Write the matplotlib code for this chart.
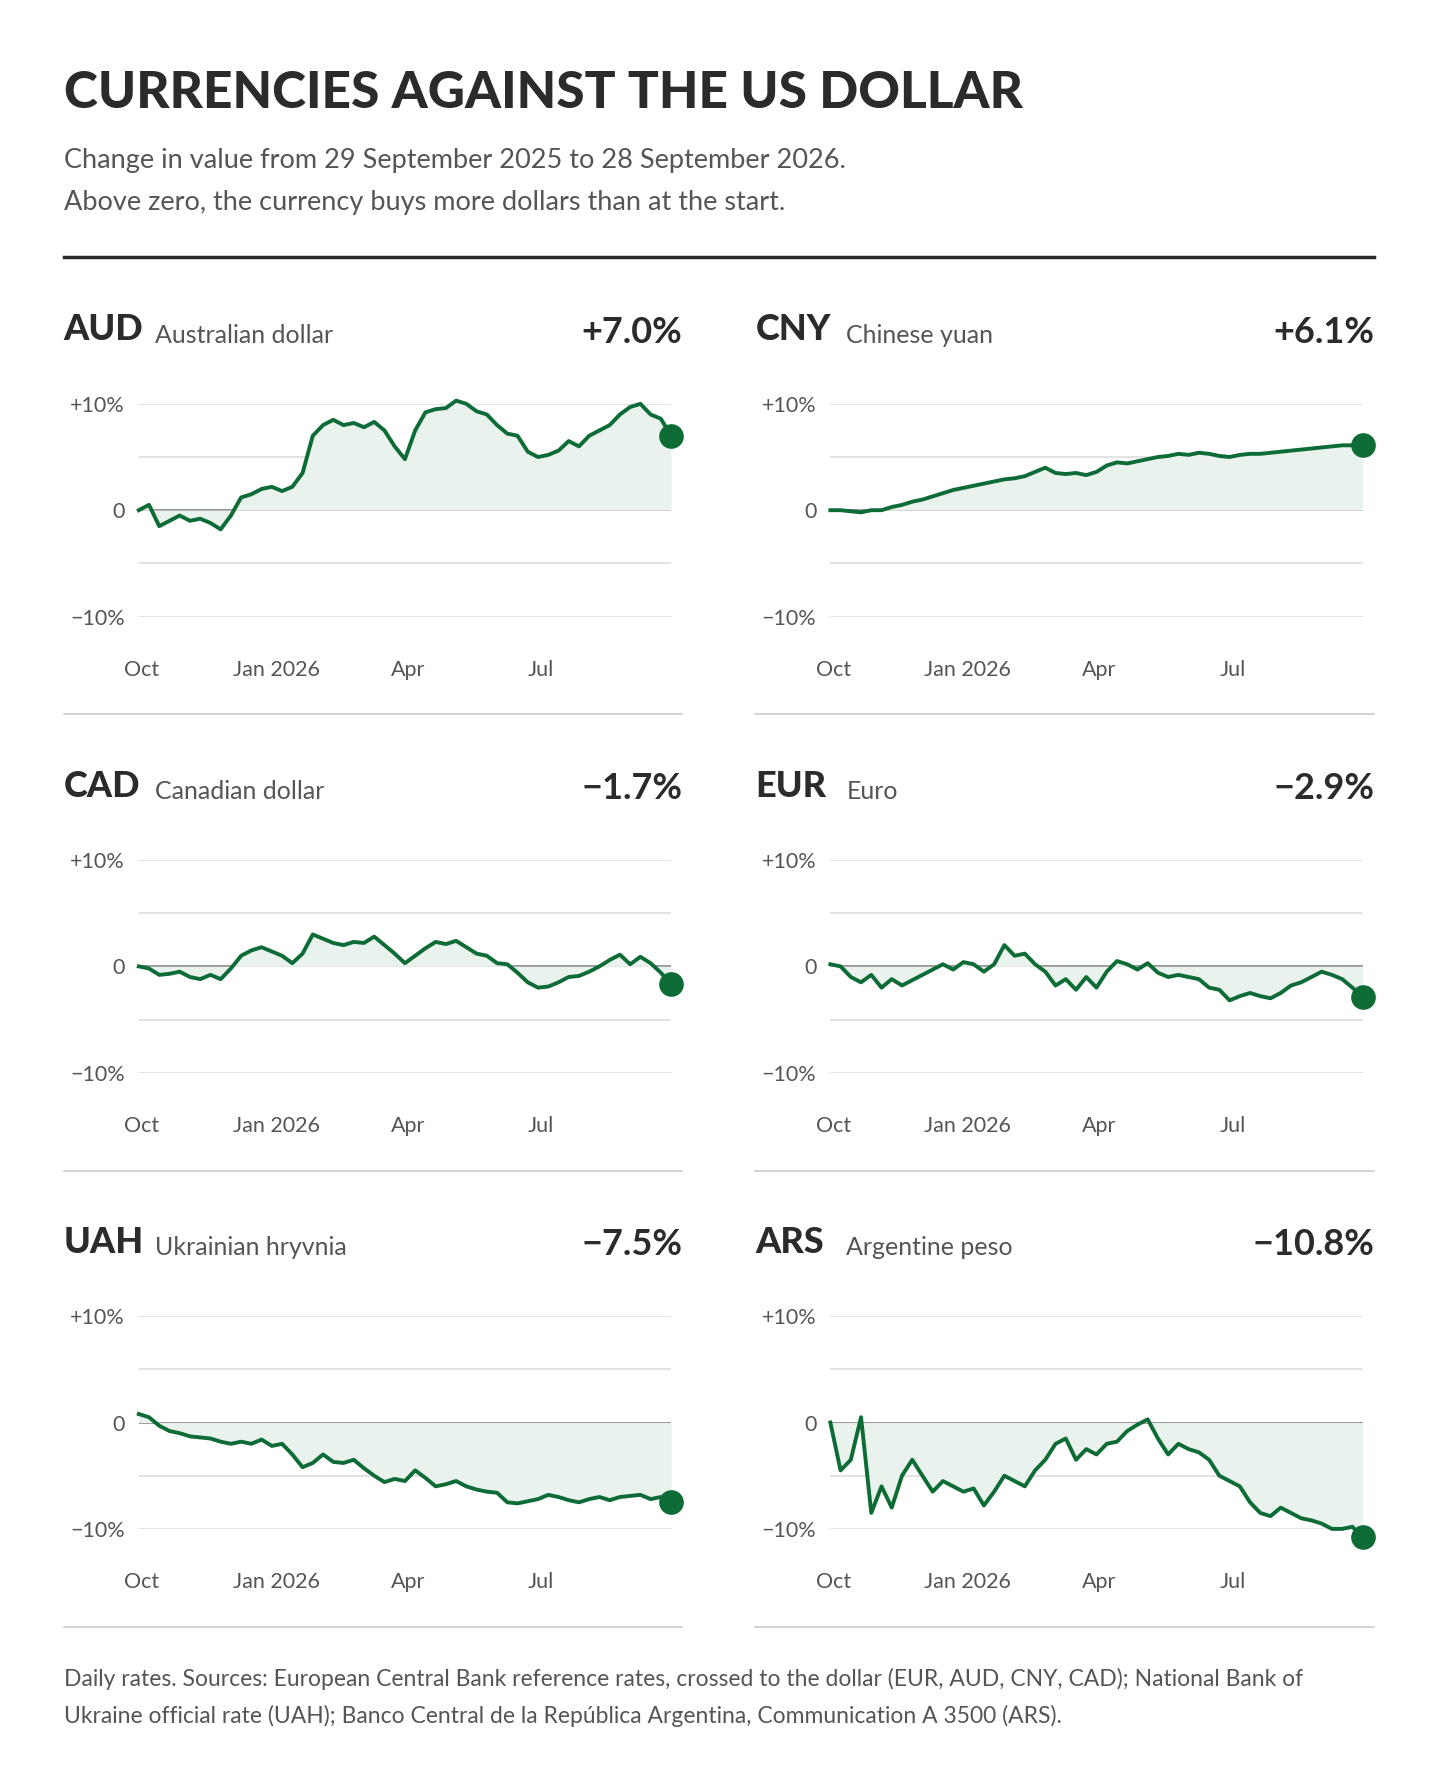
import matplotlib
matplotlib.use("Agg")
import matplotlib.pyplot as plt
import pandas as pd

# weekly observations, 29 Sep 2025 -> 28 Sep 2026
dates = pd.date_range("2025-09-29", periods=53, freq="7D")

aud = [0, 0.5, -1.5, -1, -0.5, -1, -0.8, -1.2, -1.8, -0.5, 1.2, 1.5, 2, 2.2, 1.8, 2.2, 3.5,
       7, 8, 8.5, 8, 8.2, 7.8, 8.3, 7.5, 6, 4.8, 7.5, 9.2, 9.5, 9.6, 10.3, 10, 9.3, 9, 8,
       7.2, 7, 5.5, 5, 5.2, 5.6, 6.5, 6, 7, 7.5, 8, 9, 9.7, 10, 9, 8.6, 7.0]
cny = [0, 0, -0.1, -0.2, 0, 0, 0.3, 0.5, 0.8, 1, 1.3, 1.6, 1.9, 2.1, 2.3, 2.5, 2.7, 2.9,
       3.0, 3.2, 3.6, 4.0, 3.5, 3.4, 3.5, 3.3, 3.6, 4.2, 4.5, 4.4, 4.6, 4.8, 5.0, 5.1, 5.3,
       5.2, 5.4, 5.3, 5.1, 5.0, 5.2, 5.3, 5.3, 5.4, 5.5, 5.6, 5.7, 5.8, 5.9, 6.0, 6.1, 6.1, 6.1]
cad = [0, -0.2, -0.8, -0.7, -0.5, -1.0, -1.2, -0.8, -1.2, -0.2, 1.0, 1.5, 1.8, 1.4, 1.0,
       0.3, 1.2, 3.0, 2.6, 2.2, 2.0, 2.3, 2.2, 2.8, 2.0, 1.2, 0.3, 1.0, 1.7, 2.3, 2.1, 2.4,
       1.8, 1.2, 1.0, 0.3, 0.2, -0.6, -1.5, -2.0, -1.9, -1.5, -1.0, -0.9, -0.5, 0.0, 0.6,
       1.1, 0.2, 0.9, 0.3, -0.6, -1.7]
eur = [0.2, 0, -1.0, -1.5, -0.8, -2.0, -1.2, -1.8, -1.3, -0.8, -0.3, 0.2, -0.3, 0.4, 0.2,
       -0.5, 0.2, 2.0, 1.0, 1.2, 0.2, -0.5, -1.8, -1.2, -2.2, -1.0, -2.0, -0.5, 0.5, 0.2,
       -0.3, 0.3, -0.6, -1.0, -0.8, -1.0, -1.2, -2.0, -2.2, -3.2, -2.8, -2.5, -2.8, -3.0,
       -2.5, -1.8, -1.5, -1.0, -0.5, -0.8, -1.2, -2.0, -2.9]
uah = [0.8, 0.5, -0.3, -0.8, -1.0, -1.3, -1.4, -1.5, -1.8, -2.0, -1.8, -2.0, -1.6, -2.2,
       -2.0, -3.0, -4.2, -3.8, -3.0, -3.7, -3.8, -3.5, -4.3, -5.0, -5.6, -5.3, -5.5, -4.5,
       -5.2, -6.0, -5.8, -5.5, -6.0, -6.3, -6.5, -6.6, -7.5, -7.6, -7.4, -7.2, -6.8, -7.0,
       -7.3, -7.5, -7.2, -7.0, -7.3, -7.0, -6.9, -6.8, -7.2, -7.0, -7.5]
ars = [0, -4.5, -3.5, 0.5, -8.5, -6, -8, -5, -3.5, -5, -6.5, -5.5, -6.0, -6.5, -6.2, -7.8,
       -6.5, -5.0, -5.5, -6.0, -4.5, -3.5, -2.0, -1.5, -3.5, -2.5, -3.0, -2.0, -1.8, -0.8,
       -0.2, 0.3, -1.5, -3.0, -2.0, -2.5, -2.8, -3.5, -5.0, -5.5, -6.0, -7.5, -8.5, -8.8,
       -8.0, -8.5, -9.0, -9.2, -9.5, -10.0, -10.0, -9.8, -10.8]

codes = ["AUD", "CNY", "CAD", "EUR", "UAH", "ARS"]
names = ["Australian dollar", "Chinese yuan", "Canadian dollar", "Euro",
         "Ukrainian hryvnia", "Argentine peso"]
changes = ["+7.0%", "+6.1%", "\u22121.7%", "\u22122.9%", "\u22127.5%", "\u221210.8%"]
series = [aud, cny, cad, eur, uah, ars]

tick_dates = pd.to_datetime(["2025-10-01", "2026-01-01", "2026-04-01", "2026-07-01"])
tick_labels = ["Oct", "Jan 2026", "Apr", "Jul"]

GREEN = "#0d6b35"
FILL = "#e9f2ec"
TEXT = "#2b2b2b"
GREY = "#555555"
BODY = ["Lato", "DejaVu Sans"]

W, H = 1266, 1570
fig = plt.figure(figsize=(14.4, 17.86), dpi=100)


def fx(x):
    return x / W


def fy(y):
    return 1 - y / H


fig.text(fx(56), fy(82), "CURRENCIES AGAINST THE US DOLLAR", family=BODY, weight="black",
         fontsize=37, color=TEXT, va="center")
fig.text(fx(56), fy(141), "Change in value from 29 September 2025 to 28 September 2026.",
         family=BODY, fontsize=19.5, color=GREY, va="center")
fig.text(fx(56), fy(178), "Above zero, the currency buys more dollars than at the start.",
         family=BODY, fontsize=19.5, color=GREY, va="center")
fig.add_artist(plt.Line2D([fx(56), fx(1208)], [fy(226), fy(226)], color=TEXT, lw=2.5))

for k, (code, name, chg, vals) in enumerate(zip(codes, names, changes, series)):
    col, row = k % 2, k // 2
    x0 = 56 + col * 608
    y0 = row * 401
    fig.text(fx(x0), fy(290 + y0), code, family=BODY, weight="black", fontsize=26,
             color=TEXT, va="center")
    fig.text(fx(x0 + 80), fy(295 + y0), name, family=BODY, fontsize=18, color=GREY,
             va="center")
    fig.text(fx(x0 + 544), fy(292 + y0), chg, family=BODY, fontsize=26, color=TEXT,
             va="center", ha="right", weight="bold")
    fig.add_artist(plt.Line2D([fx(x0), fx(x0 + 544)], [fy(628 + y0), fy(628 + y0)],
                              color="#cccccc", lw=1.2))

    ax = fig.add_axes([fx(x0 + 66), fy(542 + y0), fx(468), (542 - 355) / H])
    ax.set_xlim(dates[0], dates[-1])
    ax.set_ylim(-10, 10)
    for g in [-10, -5, 5, 10]:
        ax.axhline(g, color="#dddddd", lw=1.2, zorder=0)
    ax.axhline(0, color="#888888", lw=1.2, zorder=1)
    ax.fill_between(dates, vals, 0, color=FILL, lw=0, zorder=1)
    ax.plot(dates, vals, color=GREEN, lw=2.8, zorder=3, clip_on=False)
    ax.scatter([dates[-1]], [vals[-1]], s=280, color=GREEN, zorder=4, clip_on=False)
    for s in ax.spines.values():
        s.set_visible(False)
    ax.set_yticks([-10, 0, 10], ["\u221210%", "0", "+10%"])
    ax.set_xticks(tick_dates, tick_labels)
    ax.tick_params(axis="y", length=0, pad=10, labelsize=15.5, labelcolor=GREY)
    ax.tick_params(axis="x", length=0, pad=31, labelsize=15.5, labelcolor=GREY)
    for lab in ax.get_xticklabels() + ax.get_yticklabels():
        lab.set_family(BODY)
    ax.patch.set_alpha(0)

fig.text(fx(56), fy(1476), "Daily rates. Sources: European Central Bank reference rates, crossed "
         "to the dollar (EUR, AUD, CNY, CAD); National Bank of", family=BODY, fontsize=16.5,
         color=GREY, va="center")
fig.text(fx(56), fy(1508), "Ukraine official rate (UAH); Banco Central de la República "
         "Argentina, Communication A 3500 (ARS).", family=BODY, fontsize=16.5,
         color=GREY, va="center")

fig.savefig("out.png", dpi=100, facecolor="white")
